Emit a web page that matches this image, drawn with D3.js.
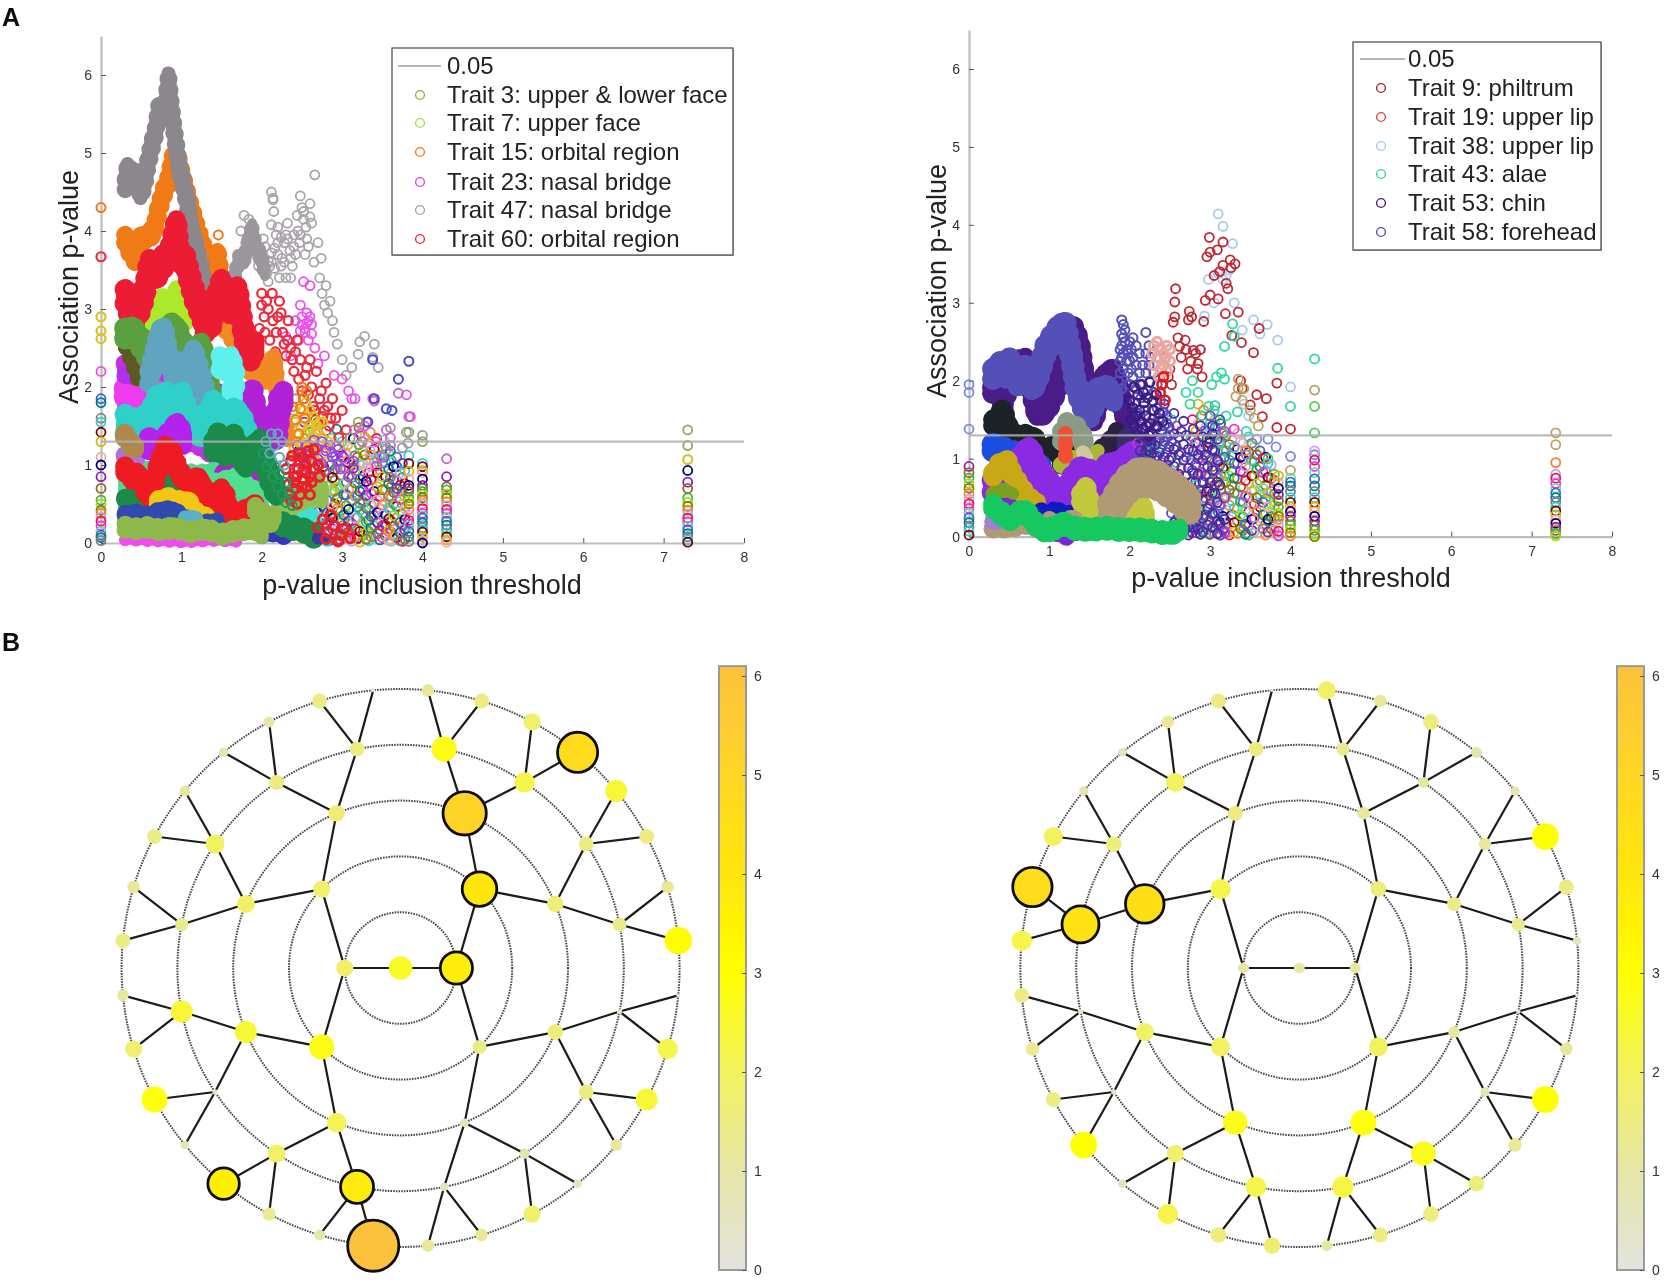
<!DOCTYPE html>
<html>
<head>
<meta charset="utf-8">
<script src="https://cdn.jsdelivr.net/npm/d3@7"></script>
<style>
  html, body { margin: 0; background: #fff; }
  text { font-family: "Liberation Sans", Arial, sans-serif; fill: #222; }
</style>
</head>
<body>
<div id="main"></div>
<script>
// ---- left scatter: dense traces (threshold, association)
const aBaseMidX = [0.3,0.6,0.9,1.2,1.5,1.8,1.95];
const aBaseMidY = [2.3,2.2,2.2,2.1,1.9,1.9,1.7];
const aBaseLowX = [0.3,0.6,0.9,1.2,1.5,1.8,2.0];
const aBaseLowY = [0.9,0.95,0.95,0.9,0.95,0.9,0.8];
const a15X = [0.3,0.36,0.42,0.48,0.54,0.6,0.66,0.72,0.78,0.84,0.9,0.96,1.02,1.1,1.2,1.3,1.4,1.45,1.5];
const a15Y = [3.95,3.8,3.7,3.95,3.95,4.0,4.05,4.35,4.55,4.7,5.0,4.95,4.7,4.4,4.05,3.75,3.4,3.75,3.4];
const a15bX = [1.55,1.65,1.75,1.85,1.95,2.05,2.15,2.25,2.32];
const a15bY = [2.9,2.75,2.5,2.35,2.3,2.25,2.4,1.6,1.5];
const a47X = [0.3,0.33,0.4,0.46,0.49,0.54,0.58,0.63,0.68,0.72,0.76,0.8,0.84,0.87,0.9,0.95,0.98,1.03,1.08,1.12,1.18,1.24,1.29];
const a47Y = [4.66,4.86,4.76,4.78,4.55,4.68,4.92,5.15,5.35,5.62,5.62,5.62,6.02,5.68,5.42,5.05,4.85,4.65,4.4,4.1,3.85,3.6,3.3];
const a47bX = [1.63,1.68,1.72,1.78,1.84,1.88,1.93,1.98,2.04];
const a47bY = [3.4,3.55,3.7,3.7,3.95,4.1,3.85,3.75,3.55];
const a7X = [0.55,0.62,0.68,0.75,0.85,0.95,1.05];
const a7Y = [2.8,3.0,3.1,3.15,3.1,3.25,3.0];
const a60X = [0.3,0.36,0.42,0.5,0.55,0.6,0.68,0.72,0.78,0.86,0.94,0.98,1.05,1.15,1.25,1.3,1.38,1.45,1.5,1.6,1.7,1.75,1.8,1.85,1.92];
const a60Y = [3.25,3.05,3.0,3.15,3.35,3.65,3.55,3.6,3.7,3.8,4.15,3.75,3.7,3.3,3.05,2.85,2.95,3.25,3.4,3.1,3.3,2.95,2.65,2.5,2.6];
const aOliveX = [0.3,0.38,0.45];
const aOliveY = [2.5,2.3,2.1];
const aLimeX = [0.3,0.36,0.42];
const aLimeY = [2.62,2.5,2.45];
const aVioletX = [0.3,0.38,0.45];
const aVioletY = [2.15,2.12,2.2];
const aPinkX = [0.3,0.38,0.48,0.62,0.7,1.45,1.55];
const aPinkY = [1.98,1.95,2.0,2.02,1.92,1.82,1.8];
const aGreenX = [0.3,0.38,0.45,0.52,0.58,0.65];
const aGreenY = [2.75,2.78,2.7,2.6,2.5,2.55];
const aGreen2X = [0.88,0.95,1.0,1.08,1.18,1.25,1.3,1.35,1.42,1.5];
const aGreen2Y = [2.82,2.78,2.62,2.5,2.5,2.58,2.35,2.05,1.8,1.5];
const aSteelX = [0.6,0.66,0.72,0.78,0.85,0.95,1.0,1.08,1.15,1.2,1.28,1.35];
const aSteelY = [2.2,2.45,2.72,2.78,2.4,2.15,2.35,2.15,2.5,2.35,2.05,1.8];
const aBrownX = [0.62,0.68,0.8,0.85];
const aBrownY = [1.75,1.72,1.92,1.95];
const aAquaX = [1.48,1.55,1.62,1.68,1.65,1.6];
const aAquaY = [2.4,2.35,2.42,2.2,2.05,2.0];
const aTurqX = [0.3,0.4,0.5,0.6,0.7,0.8,0.85,0.95,1.0,1.1,1.2,1.3,1.4,1.55,1.65,1.75,1.82];
const aTurqY = [1.65,1.6,1.62,1.68,1.9,1.95,1.7,1.78,1.95,1.68,1.62,1.62,1.85,1.6,1.75,1.65,1.45];
const aTanX = [0.3,0.38,0.43];
const aTanY = [1.4,1.28,1.25];
const aPurpleX = [0.6,0.7,0.85,0.95,1.02];
const aPurpleY = [1.35,1.3,1.42,1.55,1.4];
const aLilacX = [0.3,0.38,0.45];
const aLilacY = [1.12,1.15,1.08];
const aPurple2X = [1.88,1.92,1.96,2.02,2.18,2.22,2.27];
const aPurple2Y = [1.95,1.75,1.6,1.5,1.5,1.85,1.95];
const aDkGreenX = [1.4,1.45,1.55,1.65,1.75,1.8,1.9,1.98,2.03,2.1,2.18];
const aDkGreenY = [1.3,1.42,1.22,1.4,1.2,1.08,1.25,1.35,1.15,0.9,0.72];
const aMintX = [0.65,0.75,0.85,1.7,1.82,1.9];
const aMintY = [0.7,0.72,0.62,0.85,0.72,0.68];
const aMint2X = [1.25,1.32,1.4];
const aMint2Y = [0.55,0.85,0.55];
const aPlumX = [1.55,1.65,1.8,1.85];
const aPlumY = [0.88,0.98,0.98,0.78];
const aDkGreen2X = [0.3,0.38,0.45,0.52,0.6,0.65,0.72,0.78,0.85,0.92];
const aDkGreen2Y = [0.58,0.6,0.7,0.52,0.58,0.7,0.9,0.95,0.75,0.62];
const aRedX = [0.3,0.38,0.45,0.52,0.58,0.65,0.72,0.8,0.88,0.95,1.0,1.1,1.18,1.25,1.35,1.42,1.5,1.56,1.62,1.72,1.8,1.92];
const aRedY = [0.98,0.88,0.92,0.8,0.66,0.75,1.05,1.25,1.2,1.0,0.9,0.8,0.86,0.8,0.5,0.45,0.72,0.6,0.32,0.3,0.45,0.5];
const aYellowX = [0.72,0.82,0.9,1.08,1.18,1.28,1.38];
const aYellowY = [0.55,0.6,0.55,0.55,0.4,0.35,0.28];
const aBlueX = [0.3,0.45,0.6,0.75,0.9,1.0,1.2,1.45];
const aBlueY = [0.38,0.4,0.36,0.44,0.44,0.36,0.24,0.3];
const aSkyX = [1.05,1.12,1.2];
const aSkyY = [0.32,0.35,0.3];
const aGrassX = [0.3,0.45,0.6,0.75,0.9,1.1,1.3,1.5,1.7,1.9,2.0];
const aGrassY = [0.24,0.22,0.24,0.2,0.24,0.18,0.22,0.15,0.2,0.22,0.15];
const aGrass2X = [1.92,2.02,2.1,2.16];
const aGrass2Y = [0.48,0.42,0.3,0.38];
const aWedgeX = [2.22,2.32,2.45,2.55,2.65,2.74];
const aWedgeY = [0.45,0.55,0.6,0.68,0.8,0.72];
const aMagLowX = [0.3,0.55,0.8,1.05,1.4,1.7];
const aMagLowY = [0.04,0.03,0.02,0.01,0.03,0.02];
const aNavyX = [2.0,2.15,2.3];
const aNavyY = [0.1,0.12,0.08];
const aTealX = [2.26,2.35,2.45,2.58,2.66];
const aTealY = [0.28,0.24,0.22,0.18,0.12];
const aCyanX = [2.52,2.6,2.68];
const aCyanY = [0.32,0.38,0.3];
const aIndigoX = [2.7,2.78];
const aIndigoY = [0.06,0.05];

// ---- left scatter: open circles
const a47OpenX = [1.7,1.74,1.78,1.8,1.84,1.88,1.92,1.96,1.99,2.02,2.06,2.08,2.1,2.12,2.14,2.15,2.18,2.2,2.22,2.25,2.28,2.3,2.32,2.35,2.38,2.4,2.42,2.45,2.47,2.48,2.5,2.52,2.54,2.55,2.58,2.6,2.62,2.65,2.66,2.7,2.72,2.74,2.75,2.78,2.8,2.82,2.85,2.88,2.9,2.94,3.0,3.05,3.12,3.2,3.22,3.28,3.38,3.4,3.45,2.0,2.04,2.08,2.12,2.16,2.2,2.24,2.28,2.32,2.36,2.4,2.44,2.48,2.52,2.56,2.6,2.12,2.16,2.2,2.24,2.3,2.36,2.12,2.14];
const a47OpenY = [3.7,4.0,4.2,3.85,4.15,4.05,3.7,3.55,3.75,3.9,3.45,3.35,3.55,4.5,4.4,4.25,3.95,3.7,3.4,3.65,3.85,3.4,4.1,3.75,3.55,3.95,3.7,4.0,3.85,4.45,4.3,4.15,3.7,4.05,3.8,4.35,4.1,3.6,4.72,3.85,3.4,3.65,3.2,3.05,3.3,2.95,3.1,2.85,2.7,2.55,2.35,2.15,2.25,2.42,2.58,2.65,2.38,2.55,2.25,3.62,3.8,3.62,3.72,3.52,3.85,3.55,3.6,3.9,3.65,3.8,4.2,3.95,4.25,3.9,4.18,4.08,3.78,4.05,3.92,3.95,3.4,3.6,4.42];
const a60OpenX = [0,1.97,2.0,2.03,2.06,2.1,2.13,2.17,2.2,2.22,2.26,2.3,2.33,2.36,2.4,2.44,2.48,2.5,2.54,2.58,2.6,2.64,2.68,2.7,2.74,2.78,2.8,2.84,2.88,2.92,2.96,3.0,3.05,2.0,2.04,2.08,2.14,2.18,2.24,2.28,2.32,2.38,2.42,2.46,2.52,2.56,2.62,2.66,2.72,2.76,2.82,2.86];
const a60OpenY = [3.67,2.75,3.2,2.9,3.1,2.6,3.2,2.45,2.9,3.1,2.7,2.4,2.85,2.5,2.2,2.6,2.35,1.95,2.15,1.9,2.35,1.75,2.2,1.55,1.95,1.7,2.05,1.5,1.85,1.6,1.35,1.7,1.45,3.05,2.7,3.0,2.85,2.7,2.95,2.55,2.6,2.35,2.45,2.1,1.85,2.25,2.0,1.7,1.85,1.62,1.75,1.6];
const a60DenseX = [2.3,2.36,2.4,2.45,2.5,2.55,2.6,2.65,2.33,2.42,2.48,2.56,2.62,2.7,2.36,2.44,2.52,2.6,2.38,2.46,2.54,2.58,2.66,2.72,2.4,2.5,2.34,2.44,2.52,2.62,2.7,2.76,2.82,2.9,2.98,2.8,2.86,2.95,3.02,3.1];
const a60DenseY = [0.95,1.05,0.85,0.95,1.1,0.9,0.85,1.2,0.75,0.7,0.62,0.72,1.05,1.0,0.55,0.5,0.82,0.62,1.12,1.15,1.02,1.18,0.95,0.85,0.78,0.72,0.62,0.86,0.94,0.78,0.2,0.3,0.14,0.22,0.1,0.05,0.36,0.02,0.18,0.06];
const a23OpenX = [0,2.42,2.46,2.48,2.5,2.52,2.54,2.56,2.58,2.6,2.62,2.66,2.7,2.78,2.9,3.0,3.08,3.12,3.16,3.22,3.28,3.38,3.42,3.5,3.6,3.8,3.85,2.3,2.36,2.2,2.5,2.54,2.58,2.62,2.48,2.56,2.6];
const a23OpenY = [2.2,2.85,2.6,3.05,2.8,3.35,2.75,2.95,2.6,3.3,2.8,2.5,2.3,2.4,2.15,2.1,1.95,1.85,1.85,1.4,1.5,1.85,1.3,1.1,1.35,1.9,1.62,2.65,2.4,2.25,2.9,2.7,2.85,2.68,2.72,2.82,2.9];
const a15OpenX = [0,1.46,1.48,1.5,1.52,2.38,2.42,2.46,2.5,2.54,2.48,2.52,2.42,2.56];
const a15OpenY = [4.3,3.95,3.75,3.55,3.35,1.75,1.85,1.4,2.0,1.6,1.72,1.85,1.58,1.95];
const a3OpenX = [0,0,0,2.36,2.4,2.42,2.46,2.5,2.52,2.55,2.58,2.6,2.62,2.65,2.68,2.7,2.72,2.75,2.78,2.4,2.45,2.55,2.62,2.72,7.3,2.44,2.48,2.54,2.58,2.64,2.7,2.76,2.82,2.48,2.52,2.6,2.66];
const a3OpenY = [2.9,2.72,2.62,1.05,1.2,1.55,1.4,1.25,1.6,1.05,1.45,1.7,1.3,1.1,1.5,1.25,1.0,1.35,1.15,1.7,1.3,1.8,1.2,1.55,1.07,1.12,1.5,1.4,1.22,1.62,1.42,1.55,1.3,1.3,1.7,1.5,1.35];
const aBlueOpenX = [3.38,3.7,3.83,3.4,3.55,3.62,3.32,3.68];
const aBlueOpenY = [2.35,2.1,2.33,1.85,1.72,1.7,1.55,0.7];
const a7OpenX = [3.83,4.0,7.3,7.3,3.1,3.2];
const a7OpenY = [1.42,1.3,1.45,1.25,1.35,1.55];
const aMagentaOpenX = [3.7,3.83,3.4,3.3,3.15,3.25,3.55,3.6,4.3];
const aMagentaOpenY = [1.92,1.62,1.82,1.55,1.45,1.3,1.45,1.25,1.08];
const a47LowX = [3.6,3.8,4.0,3.55,3.75,3.82];
const a47LowY = [1.48,1.42,1.38,1.2,1.22,1.28];
const aGreenOpenX = [2.02,2.06,2.1,2.14,2.16,2.2,2.22,2.26,2.3,2.3,2.34,2.38];
const aGreenOpenY = [1.15,0.98,1.05,0.85,0.98,0.72,0.88,0.62,0.78,0.52,0.65,0.48];
const aSteelOpenX = [2.05,2.1,2.12,2.16,2.2,2.22,2.25,2.28];
const aSteelOpenY = [1.3,1.15,1.4,1.25,1.4,1.1,1.3,1.0];
const aPurpleOpenX = [2.5,2.56,2.62,2.68,2.74,2.8,2.86,2.92,2.98,2.55,2.65,2.75,2.85,2.95,3.02,3.08,3.14,2.44,2.48,2.58,2.7,2.78,2.88];
const aPurpleOpenY = [1.15,1.25,1.05,1.22,1.02,1.18,1.0,1.12,0.95,0.98,1.32,1.3,1.25,1.2,1.1,0.85,1.05,1.25,1.02,1.12,1.08,0.92,1.1];

// multi coloured clouds: one x per column, y list per column
const cloudAX = [2.7,2.77,2.84,2.91,2.98,3.05,3.12,3.19,3.26,3.33,3.4,3.47,3.54,3.61,3.68,3.75];
const cloudAY = [
  [0.88,0.7,0.52,0.4,0.27,0.16,0.05],
  [0.98,0.82,0.63,0.46,0.36,0.21,0.08],
  [1.02,0.9,0.74,0.56,0.42,0.28,0.11,0.03],
  [0.94,0.8,0.66,0.5,0.33,0.24,0.1],
  [1.05,0.87,0.7,0.53,0.41,0.3,0.16,0.04],
  [1.14,0.95,0.78,0.62,0.48,0.36,0.2,0.08],
  [1.22,1.0,0.84,0.7,0.55,0.4,0.25,0.13,0.02],
  [1.1,0.93,0.76,0.6,0.46,0.33,0.18,0.06],
  [1.18,1.02,0.86,0.68,0.53,0.38,0.24,0.1],
  [1.28,1.06,0.9,0.74,0.58,0.43,0.29,0.15,0.03],
  [1.2,1.04,0.83,0.66,0.5,0.35,0.22,0.08],
  [1.12,0.94,0.78,0.6,0.44,0.3,0.17,0.04],
  [1.24,1.03,0.85,0.68,0.52,0.36,0.23,0.09],
  [1.06,0.9,0.72,0.58,0.42,0.28,0.14,0.02],
  [1.1,0.98,0.8,0.64,0.47,0.32,0.2,0.07],
  [1.02,0.84,0.68,0.5,0.37,0.24,0.11,0.02]
];
const cloudA2X = [2.74,2.81,2.88,2.94,3.02,3.08,3.16,3.22,3.3,3.36,3.44,3.5,3.58,3.64,3.72,3.78];
const cloudA2Y = [
  [0.6,0.44,0.31,0.12],
  [0.73,0.55,0.39,0.25,0.02],
  [0.84,0.68,0.47,0.32,0.18,0.06],
  [1.0,0.72,0.57,0.44,0.17,0.04],
  [0.97,0.76,0.62,0.36,0.23,0.1],
  [1.03,0.86,0.69,0.43,0.28,0.14],
  [1.12,0.92,0.77,0.6,0.32,0.18,0.07],
  [1.0,0.82,0.66,0.51,0.42,0.15,0.01],
  [0.96,0.79,0.61,0.45,0.27,0.13,0.05],
  [1.13,0.98,0.81,0.64,0.49,0.34,0.19,0.08],
  [1.08,0.9,0.72,0.55,0.39,0.26,0.12],
  [1.02,0.85,0.68,0.49,0.36,0.22,0.07],
  [1.14,0.95,0.76,0.6,0.45,0.31,0.16,0.03],
  [0.98,0.81,0.65,0.5,0.35,0.21,0.09],
  [0.9,0.74,0.56,0.41,0.26,0.13,0.03],
  [0.93,0.76,0.6,0.44,0.3,0.17,0.05]
];
const cloudA3X = [2.46,2.53,2.6,2.67,2.8,2.87,2.93,3.0,3.07,3.14,3.21,3.28,3.35,3.43,3.52,3.6];
const cloudA3Y = [
  [1.38,1.18],[1.55,1.34],[1.42,1.12],[1.58,1.4,1.05],[1.44,1.22],[1.34,1.16],[1.46,1.24],[1.3,1.12],
  [1.26,1.06],[1.34,0.96],[1.48,1.26],[1.36,1.13],[1.42,1.18],[1.34,0.99],[1.32,1.1],[1.18,0.84]
];
const edgeAX = [0,3.83,4.0,4.3,7.3];
const edgeAY = [
  [1.85,1.8,1.6,1.55,1.42,1.3,1.1,1.0,0.85,0.7,0.55,0.5,0.42,0.38,0.33,0.28,0.22,0.15,0.1,0.07,0.03],
  [1.12,1.02,0.92,0.82,0.74,0.7,0.66,0.58,0.54,0.5,0.43,0.36,0.29,0.25,0.22,0.15,0.08,0.02],
  [1.02,0.98,0.93,0.9,0.82,0.74,0.7,0.66,0.62,0.58,0.54,0.5,0.44,0.38,0.35,0.32,0.26,0.2,0.17,0.14,0.08,0.03,0],
  [0.85,0.72,0.68,0.63,0.58,0.53,0.48,0.43,0.38,0.33,0.28,0.23,0.18,0.13,0.08,0.04,0.01],
  [0.93,0.78,0.7,0.58,0.52,0.47,0.42,0.37,0.32,0.27,0.22,0.17,0.12,0.08,0.04,0.01]
];

// ---- right scatter: dense traces
const bPurpleX = [0.3,0.36,0.42,0.55,0.7,0.85,0.95,1.05,1.13,1.2,1.3,1.37,1.42,1.5,1.55,1.62,1.7,1.8,1.9,2.0];
const bPurpleY = [1.92,1.95,1.75,2.22,2.3,1.62,1.65,1.85,2.05,2.4,2.7,2.5,2.15,1.75,1.55,1.85,2.1,2.15,1.75,1.45];
const bSlateX = [0.3,0.38,0.45,0.5,0.55,0.6,0.7,0.78,0.85,0.95,1.05,1.15,1.2,1.28,1.32,1.4,1.5,1.6,1.7,1.8];
const bSlateY = [2.15,2.25,2.15,2.3,2.15,2.05,2.2,2.0,2.1,2.45,2.62,2.75,2.75,2.35,2.05,1.8,1.65,1.9,1.95,1.85];
const bBlackX = [0.3,0.36,0.42,0.5,0.6,0.7,0.8,0.9,1.0,1.1,1.15,1.3];
const bBlackY = [1.5,1.55,1.65,1.4,1.3,1.32,1.3,1.15,1.15,1.2,1.0,1.05];
const bBlack2X = [1.55,1.65,1.75,1.85];
const bBlack2Y = [1.05,1.15,1.25,1.38];
const bSageX = [1.15,1.22,1.35,1.45];
const bSageY = [1.35,1.48,1.42,1.25];
const bKhakiX = [1.42,1.48];
const bKhakiY = [1.08,1.02];
const bOrangeRedX = [1.2,1.2];
const bOrangeRedY = [1.32,1.02];
const bOliveX = [1.15,1.3,1.5,1.6];
const bOliveY = [0.92,1.02,0.98,1.1];
const bBlueX = [0.3,0.4,0.5,0.6,0.72,0.9];
const bBlueY = [1.18,1.15,1.1,1.08,0.98,0.92];
const bVioletBaseX = [0.3,0.6,0.9,1.2,1.5,1.8];
const bVioletBaseY = [0.75,0.8,0.7,0.55,0.7,0.75];
const bVioletX = [0.3,0.6,0.75,0.85,0.95,1.1,1.2,1.3,1.4,1.5,1.6,1.75,1.9,1.97,2.03];
const bVioletY = [0.72,0.98,1.15,0.92,0.75,0.62,0.62,0.78,0.9,0.85,0.8,0.95,0.95,1.05,1.1];
const bGoldX = [0.3,0.38,0.47,0.55,0.65,0.72,0.85];
const bGoldY = [0.82,0.95,1.0,0.8,0.65,0.52,0.45];
const bNavyX = [0.9,1.0,1.05,1.2,1.32];
const bNavyY = [0.33,0.28,0.36,0.3,0.3];
const bGrassX = [0.3,0.45,0.55];
const bGrassY = [0.55,0.6,0.55];
const bLilacX = [0.3,0.36];
const bLilacY = [0.2,0.18];
const bYellowX = [1.4,1.45,1.5,1.6];
const bYellowY = [0.55,0.65,0.45,0.25];
const bYellow2X = [1.85,2.0,2.1,2.2];
const bYellow2Y = [0.35,0.45,0.5,0.3];
const bTanX = [1.75,1.9,2.0,2.15,2.35,2.5,2.65,2.75];
const bTanY = [0.42,0.68,0.8,0.88,0.82,0.72,0.6,0.5];
const bTan2X = [0.3,0.5,0.7,0.85];
const bTan2Y = [0.1,0.1,0.15,0.1];
const bTan3X = [1.0,1.15,1.3,1.45,1.6];
const bTan3Y = [0.22,0.18,0.25,0.3,0.32];
const bGreenX = [0.3,0.4,0.5,0.6,0.7,0.8,0.9,1.0,1.15,1.3,1.5,1.7,1.9,2.1,2.3,2.5,2.62];
const bGreenY = [0.42,0.33,0.25,0.33,0.36,0.22,0.13,0.1,0.2,0.14,0.12,0.14,0.12,0.12,0.1,0.07,0.12];
const bDarkX = [1.98,2.05,2.12,2.2];
const bDarkY = [1.25,1.18,1.22,1.15];

// ---- right scatter: open circles
const b9OpenX = [2.57,2.56,2.56,2.54,2.74,2.77,2.73,2.92,2.6,2.69,2.62,2.79,2.85,2.9,2.99,3.16,3.09,3.0,2.96,3.25,3.31,3.16,3.22,3.0,2.94,3.19,3.35,3.61,3.39,3.54,3.27,3.83,4.0,3.83,3.7,3.58,3.5,3.65,3.4,3.38,2.45,2.5,2.52,2.7,2.76,2.82,2.48,2.64,2.72,2.84,2.88,3.05,3.1,3.12,3.2,3.26];
const b9OpenY = [3.18,3.01,2.82,2.75,2.89,2.82,2.78,2.76,2.55,2.52,2.44,2.39,2.22,2.05,3.84,3.78,3.68,3.65,3.59,3.55,3.5,3.48,3.18,3.1,3.03,2.86,2.88,2.67,2.49,2.36,2.58,1.97,1.38,1.4,1.77,1.82,1.69,1.54,1.9,2.0,2.3,2.15,1.95,2.4,2.25,2.35,2.05,2.3,2.15,2.15,2.4,3.35,3.05,3.4,3.25,3.45];
const b38OpenX = [3.1,3.16,3.28,3.2,3.3,3.54,3.71,3.84,3.62,3.4,4.0,2.93,2.87,3.1,3.16,3.24,2.98,3.05,3.42,3.48];
const b38OpenY = [4.14,3.98,3.76,3.35,3.0,2.78,2.72,2.52,2.6,2.65,1.92,2.83,2.4,3.38,3.3,3.42,3.3,3.0,1.7,1.55];
const b43OpenX = [3.28,3.18,3.3,3.84,3.02,3.08,3.14,3.18,2.98,2.78,2.85,4.0,2.7,2.75,2.9,3.0,3.05,3.2,3.15,3.34,3.45,4.3];
const b43OpenY = [2.73,2.44,2.57,2.16,1.95,2.05,2.1,2.02,1.67,2.0,1.85,1.67,1.85,1.7,1.55,1.45,1.62,1.55,1.35,1.6,1.35,2.28];
const bTanOpenX = [3.35,3.35,3.32,3.4,3.42,3.5,3.55,3.6,4.3,7.3,7.3,4.0];
const bTanOpenY = [2.02,1.9,1.8,1.75,1.9,1.62,1.52,1.42,1.88,1.33,1.18,0.85];
const bLightOpenX = [0,0,0,4.0,4.3,3.58,3.72,3.82,3.3,3.45];
const bLightOpenY = [1.95,1.85,1.38,1.03,1.05,1.25,1.25,1.15,1.15,1.05];
const bGreenSpotX = [4.3,4.3,3.72,3.8];
const bGreenSpotY = [1.67,1.33,1.0,0.8];
const b58OpenX = [1.88,1.88,1.88,1.9,1.9,1.9,1.9,1.92,1.92,1.92,1.92,1.94,1.94,1.96,1.96,1.96,1.98,1.98,2.0,2.0,2.0,2.02,2.02,2.04,2.04,2.04,2.08,2.08,2.08,2.12,2.12,2.16,2.16,2.2,2.2,2.2,2.24,2.24,2.26,2.3,2.3,2.34,2.34,2.38,2.42,2.46,2.5,2.06,2.1,2.14,2.18,2.22,2.28,2.32,2.36,2.4,2.44,1.86,1.84,1.9];
const b58OpenY = [2.4,2.25,2.1,2.78,2.6,2.45,2.3,2.72,2.55,2.35,2.15,2.65,2.5,2.4,2.25,1.95,2.35,2.1,2.5,2.25,1.95,2.4,2.15,2.55,2.3,2.05,2.45,2.2,1.9,2.35,2.1,2.2,1.95,2.62,2.35,2.1,2.45,2.2,2.3,2.1,1.85,1.95,1.65,1.75,1.6,1.45,1.3,1.72,1.58,1.78,1.62,1.88,1.62,1.42,1.52,1.32,1.22,2.0,1.85,1.9];
const b53OpenX = [2.0,2.04,2.08,2.1,2.14,2.18,2.02,2.06,2.12,2.16,2.2,2.22,2.26,2.3,2.24,2.28,2.34,2.05,2.09,2.13,2.17,2.21,2.25,2.29,2.33,2.37,2.41];
const b53OpenY = [1.75,1.65,1.55,1.82,1.48,1.72,1.5,1.42,1.62,1.38,1.55,1.78,1.45,1.62,1.3,1.32,1.42,1.92,1.36,1.95,1.85,1.42,1.98,1.74,1.82,1.58,1.48];
const bPinkX = [2.3,2.34,2.38,2.42,2.46,2.5,2.3,2.34,2.38,2.42,2.46,2.5,2.28,2.36,2.44];
const bPinkY = [2.45,2.5,2.42,2.35,2.45,2.4,2.2,2.3,2.15,2.2,2.12,2.25,2.35,2.05,2.28];
const bRedFillX = [2.38,2.4,2.42,2.44];
const bRedFillY = [1.85,1.95,2.05,1.75];
const cloudBPurpleX = [2.1,2.16,2.22,2.28,2.34,2.4,2.46,2.52,2.58,2.64,2.7,2.76,2.82,2.88,2.94,3.0,3.06,3.12,3.18];
const cloudBPurpleY = [
  [1.42,1.2,1.02],[1.38,1.14,0.98],[1.45,1.25,1.08],[1.5,1.32,1.1,0.95],[1.4,1.2,1.03,0.88],[1.6,1.35,1.15,0.95,0.82],
  [1.55,1.28,1.08,0.9,0.75],[1.5,1.22,1.02,0.82,0.5,0.3],[1.42,1.15,0.95,0.72,0.42,0.22],[1.35,1.08,0.88,0.62,0.36,0.15],
  [1.3,1.02,0.78,0.52,0.3,0.1],[1.25,0.98,0.7,0.45,0.25,0.07],[1.2,0.92,0.66,0.4,0.18,0.05],[1.42,1.12,0.82,0.58,0.33,0.12,0.03],
  [1.36,1.05,0.78,0.5,0.28,0.08],[1.55,1.25,0.98,0.7,0.42,0.2,0.03],[1.68,1.4,1.1,0.85,0.55,0.3,0.1],[1.5,1.2,0.92,0.66,0.4,0.16,0.02],[1.35,1.02,0.78,0.5,0.22,0.06]
];
const cloudBP2X = [2.13,2.19,2.25,2.31,2.37,2.43,2.49,2.55,2.61,2.67,2.73,2.79,2.85,2.91,2.97,3.03,3.09];
const cloudBP2Y = [
  [1.55,1.3,1.1],[1.62,1.28,1.06],[1.35,1.15,0.96],[1.42,1.18,1.02],[1.48,1.26,1.08,0.92],[1.7,1.42,1.22,1.02,0.86],
  [1.4,1.15,0.98,0.8],[1.58,1.32,1.12,0.9,0.38,0.18],[1.28,1.05,0.8,0.5,0.26,0.05],[1.48,1.18,0.98,0.7,0.45,0.2],
  [1.12,0.88,0.62,0.38,0.14,0.02],[1.38,1.1,0.82,0.58,0.33,0.12],[1.05,0.8,0.52,0.28,0.1],[1.28,0.98,0.7,0.46,0.24,0.06],
  [1.15,0.9,0.62,0.36,0.15],[1.42,1.12,0.85,0.56,0.3,0.12],[1.25,0.98,0.7,0.44,0.2,0.04]
];
const cloudBX = [2.78,2.85,2.92,2.99,3.06,3.13,3.2,3.27,3.34,3.41,3.48,3.55,3.62,3.69,3.76];
const cloudBY = [
  [1.5,1.28,1.05,0.85,0.62,0.42,0.22,0.05],
  [1.7,1.45,1.2,1.0,0.78,0.55,0.34,0.14],
  [1.62,1.35,1.12,0.9,0.7,0.48,0.27,0.08],
  [1.4,1.2,0.98,0.76,0.58,0.38,0.2,0.03],
  [1.5,1.3,1.08,0.86,0.66,0.46,0.26,0.1],
  [1.45,1.22,1.0,0.8,0.6,0.4,0.18,0.02],
  [1.3,1.1,0.9,0.7,0.52,0.34,0.16,0.05],
  [1.25,1.05,0.84,0.66,0.46,0.28,0.12],
  [1.32,1.12,0.94,0.74,0.55,0.36,0.2,0.04],
  [1.2,1.0,0.82,0.62,0.44,0.25,0.08],
  [1.28,1.08,0.88,0.68,0.5,0.32,0.14,0.02],
  [1.15,0.96,0.78,0.6,0.42,0.24,0.06],
  [1.1,0.9,0.72,0.54,0.38,0.2,0.05],
  [1.02,0.84,0.66,0.48,0.3,0.16,0.02],
  [0.92,0.75,0.58,0.42,0.26,0.1]
];
const cloudB2X = [2.82,2.89,2.96,3.03,3.1,3.16,3.24,3.3,3.38,3.44,3.52,3.58,3.66,3.72,3.8];
const cloudB2Y = [
  [1.35,1.15,0.92,0.7,0.5,0.3,0.1],
  [1.55,1.3,1.08,0.82,0.6,0.38,0.18],
  [1.25,1.02,0.8,0.58,0.36,0.14],
  [1.32,1.1,0.9,0.72,0.5,0.28,0.06],
  [1.18,0.96,0.75,0.52,0.32,0.15],
  [1.32,1.1,0.88,0.7,0.48,0.26,0.08],
  [1.18,0.98,0.78,0.6,0.4,0.22,0.02],
  [1.38,1.14,0.94,0.75,0.56,0.36,0.18,0.06],
  [1.22,1.02,0.84,0.64,0.45,0.28,0.1],
  [1.1,0.9,0.72,0.52,0.34,0.16,0.03],
  [1.2,0.98,0.78,0.58,0.4,0.22,0.08],
  [1.05,0.86,0.68,0.5,0.32,0.14],
  [1.0,0.82,0.62,0.44,0.28,0.1],
  [0.94,0.76,0.56,0.38,0.22,0.06],
  [0.72,0.55,0.4,0.24,0.08]
];
const edgeBX = [0,3.85,4.0,4.3,7.3];
const edgeBY = [
  [0.9,0.82,0.75,0.68,0.62,0.55,0.48,0.42,0.36,0.3,0.24,0.18,0.12,0.07,0.02],
  [0.78,0.7,0.62,0.54,0.46,0.38,0.3,0.26,0.22,0.14,0.07,0.01],
  [0.75,0.7,0.65,0.58,0.5,0.44,0.38,0.35,0.32,0.26,0.2,0.15,0.1,0.05,0.01],
  [1.1,0.98,0.9,0.82,0.74,0.65,0.58,0.5,0.44,0.38,0.32,0.26,0.2,0.14,0.08,0.03,0],
  [0.95,0.8,0.75,0.68,0.62,0.56,0.5,0.44,0.38,0.33,0.28,0.22,0.17,0.12,0.08,0.04,0.01]
];

const legendA = ["Trait 3: upper & lower face","Trait 7: upper face","Trait 15: orbital region","Trait 23: nasal bridge","Trait 47: nasal bridge","Trait 60: orbital region"];
const legendAColours = ["#a8a63a","#a8e23c","#f07a1e","#e83ce8","#a5a1a6","#ea2a3c"];
const legendB = ["Trait 9: philtrum","Trait 19: upper lip","Trait 38: upper lip","Trait 43: alae","Trait 53: chin","Trait 58: forehead"];
const legendBColours = ["#a8202c","#e8443c","#a8c8f0","#30d8a0","#4b1a8c","#5450b8"];

// ---- network node values, one array per ring, clockwise from 12 o'clock
const leftRoot = [2.6];
const leftRing1 = [3.7,1.8];
const leftRing2 = [4.0,1.4,2.8,1.8];
const leftRing3 = [5.1,1.7,1.6,0.7,2.1,2.4,1.9,1.7];
const leftRing4 = [2.8,2.2,1.5,1.4,0.3,1.5,0.9,0.7,3.8,1.9,0.3,2.4,1.3,2.0,1.5,1.5];
const leftRing5 = [1.2,1.5,1.8,4.7,2.4,1.5,1.2,3.1,0.1,2.2,2.4,1.1,0.7,1.8,1.2,1.2,6.1,1.0,1.3,3.6,0.7,2.9,1.8,1.1,1.5,1.2,1.5,1.0,0.8,1.0,1.5,0.1];
const rightRoot = [1.0];
const rightRing1 = [1.0,1.0];
const rightRing2 = [1.6,2.0,2.0,2.2];
const rightRing3 = [1.2,1.4,1.1,2.9,2.7,1.9,4.5,1.5];
const rightRing4 = [1.3,1.0,1.2,1.3,0.2,0.8,2.7,2.3,2.2,1.8,0.3,0.3,4.3,1.6,2.0,1.5];
const rightRing5 = [1.9,1.2,1.6,1.0,0.8,3.0,1.5,0.7,0.1,1.2,3.0,1.3,1.6,1.6,1.5,1.0,1.7,1.6,2.2,0.7,3.0,1.5,1.3,1.5,2.2,4.6,2.0,0.8,0.7,1.2,1.5,0.05];

const cbTicks = [0,1,2,3,4,5,6];
const cbStops = [0,1,2,3,4,5,6.1];
const cbColours = ["#e3e3de","#e6e6a6","#f2f25e","#ffff00","#ffe60a","#ffd626","#fdc23c"];
const openColours = ["#e6194b","#3cb44b","#d9b800","#4363d8","#f58231","#911eb4","#2fd0d0","#f032e6","#a8d80c","#f4a6a6","#008080","#c8a0f0","#9a6324","#800000","#60e0a0","#808000","#000075","#808080"];

const width = 1666, height = 1282;
const svg = d3.select("#main").append("svg").attr("width", width).attr("height", height).style("display", "block");

const defs = svg.append("defs");
defs.append("filter").attr("id", "soft").append("feGaussianBlur").attr("stdDeviation", 0.7);

const grad = defs.append("linearGradient").attr("id", "cb").attr("x1", 0).attr("x2", 0).attr("y1", 1).attr("y2", 0);
cbStops.forEach((s, i) => {
  grad.append("stop").attr("offset", s / 6.1).attr("stop-color", cbColours[i]);
});

const root = svg.append("g").attr("filter", "url(#soft)");

// a trace is a ribbon: area [v, v + depth px], rounded stroke, beads along both edges
const drawBands = (g, x, y, bands) => {
  bands.forEach(b => {
    const pts = b[0].map((v, i) => [v, b[1][i]]);
    const depth = b[4] || 0;
    const area = d3.area().x(d => x(d[0])).y0(d => y(d[1])).y1(d => y(d[1]) + depth);
    const top = d3.line().x(d => x(d[0])).y(d => y(d[1]));
    const bottom = d3.line().x(d => x(d[0])).y(d => y(d[1]) + depth);
    g.append("path")
      .attr("d", area(pts))
      .attr("fill", b[2])
      .attr("stroke", b[2])
      .attr("stroke-width", b[3])
      .attr("stroke-linejoin", "round")
      .attr("stroke-linecap", "round");
    [top, bottom].forEach(l => {
      g.append("path")
        .attr("d", l(pts))
        .attr("fill", "none")
        .attr("stroke", b[2])
        .attr("stroke-width", b[3] + 3)
        .attr("stroke-linecap", "round")
        .attr("stroke-dasharray", "0.1 11");
    });
  });
};

const drawOpen = (g, x, y, xs, ys, colour, sw) => {
  g.append("g").selectAll("circle")
    .data(xs.map((v, i) => [v, ys[i]]))
    .enter()
    .append("circle")
    .attr("cx", d => x(d[0]))
    .attr("cy", d => y(d[1]))
    .attr("r", 4.5)
    .attr("fill", "none")
    .attr("stroke", colour)
    .attr("stroke-width", sw || 1.8);
};

const drawColumns = (g, x, y, colX, colY, colours, offset) => {
  let n = offset || 0;
  colX.forEach((cx, i) => {
    colY[i].forEach(v => {
      g.append("circle")
        .attr("cx", x(cx))
        .attr("cy", y(v))
        .attr("r", 4.5)
        .attr("fill", "none")
        .attr("stroke", colours[n % colours.length])
        .attr("stroke-width", 1.8);
      n += 7;
    });
  });
};

const drawAxes = (g, x, y) => {
  const xAxis = d3.axisBottom(x).tickValues(d3.range(0, 9)).tickSize(0).tickPadding(9).tickFormat(d3.format("d"));
  const yAxis = d3.axisLeft(y).tickValues(d3.range(0, 7)).tickSize(0).tickPadding(9).tickFormat(d3.format("d"));
  const gx = g.append("g").attr("transform", "translate(0," + y(0) + ")").call(xAxis);
  const gy = g.append("g").attr("transform", "translate(" + x(0) + ",0)").call(yAxis);
  [gx, gy].forEach(a => {
    a.select(".domain").attr("stroke", "#bdbdbd").attr("stroke-width", 2.2);
    a.selectAll("text").style("font-size", "14px").style("fill", "#333");
  });
  gx.selectAll(".tick").append("line").attr("y2", -5).attr("stroke", "#555");
  gy.selectAll(".tick").append("line").attr("x2", 5).attr("stroke", "#555");
};

const drawLegend = (g, box, labels, colours, rowsY, textX, markX, lineX) => {
  g.append("rect").attr("x", box[0] + 1).attr("y", box[1] + 1).attr("width", box[2] - box[0]).attr("height", box[3] - box[1]).attr("fill", "#bbb");
  g.append("rect").attr("x", box[0]).attr("y", box[1]).attr("width", box[2] - box[0]).attr("height", box[3] - box[1]).attr("fill", "#fff").attr("stroke", "#444").attr("stroke-width", 1.2);
  g.append("line").attr("x1", lineX[0]).attr("x2", lineX[1]).attr("y1", rowsY[0]).attr("y2", rowsY[0]).attr("stroke", "#b5b5b5").attr("stroke-width", 2);
  g.append("text").attr("x", textX).attr("y", rowsY[0] + 8).style("font-size", "24px").text("0.05");
  labels.forEach((t, i) => {
    g.append("circle").attr("cx", markX).attr("cy", rowsY[i + 1]).attr("r", 4.4).attr("fill", "none").attr("stroke", colours[i]).attr("stroke-width", 1.4);
    g.append("text").attr("x", textX).attr("y", rowsY[i + 1] + 8).style("font-size", "24px").text(t);
  });
};

// ---- panel A left
const xA = d3.scaleLinear().domain([0, 8]).range([101, 744]);
const yA = d3.scaleLinear().domain([0, 6.5]).range([543, 36]);
const gA = root.append("g");

drawAxes(gA, xA, yA);

drawColumns(gA, xA, yA, cloudAX, cloudAY, openColours);
drawColumns(gA, xA, yA, cloudA2X, cloudA2Y, openColours, 4);
drawColumns(gA, xA, yA, cloudA3X, cloudA3Y, openColours, 9);
drawOpen(gA, xA, yA, a47OpenX, a47OpenY, "#a9a5aa");
drawOpen(gA, xA, yA, a23OpenX, a23OpenY, "#ec50ec");
drawOpen(gA, xA, yA, a60OpenX, a60OpenY, "#ea2a3c", 2.2);
drawOpen(gA, xA, yA, a3OpenX, a3OpenY, "#e0c020", 2.2);
drawOpen(gA, xA, yA, aPurpleOpenX, aPurpleOpenY, "#a040e8");
drawOpen(gA, xA, yA, a47LowX, a47LowY, "#9a9a9a");
drawOpen(gA, xA, yA, aMagentaOpenX, aMagentaOpenY, "#c860d0");
drawOpen(gA, xA, yA, aBlueOpenX, aBlueOpenY, "#4a48d0", 2);
drawOpen(gA, xA, yA, a7OpenX, a7OpenY, "#8ca860");
drawColumns(gA, xA, yA, edgeAX, edgeAY, openColours, 3);

drawBands(gA, xA, yA, [
  [aMagLowX, aMagLowY, "#ef4cef", 9, 0],
  [aWedgeX, aWedgeY, "#8fc050", 15, 14],
  [aCyanX, aCyanY, "#40e0d0", 12, 4],
  [aNavyX, aNavyY, "#3038b8", 14, 0],
  [aTealX, aTealY, "#1e8a4c", 17, 6],
  [aIndigoX, aIndigoY, "#3a38a0", 9, 0]
]);
drawOpen(gA, xA, yA, a60DenseX, a60DenseY, "#e8202c", 3);
drawOpen(gA, xA, yA, a15OpenX, a15OpenY, "#f07a1e", 2);

drawBands(gA, xA, yA, [
  [a15X, a15Y, "#f07a14", 15, 8],
  [a47X, a47Y, "#8b878d", 14, 10],
  [a47bX, a47bY, "#9b979d", 10, 10],
  [a15bX, a15bY, "#f08a20", 14, 14],
  [a7X, a7Y, "#aee82c", 16, 14],
  [aBaseMidX, aBaseMidY, "#c030e0", 16, 66],
  [aBaseLowX, aBaseLowY, "#50d890", 14, 50],
  [aPurple2X, aPurple2Y, "#b020d8", 20, 14],
  [aPlumX, aPlumY, "#a828c8", 20, 0],
  [aPinkX, aPinkY, "#ef3aef", 20, 8],
  [aVioletX, aVioletY, "#b030f0", 14, 0],
  [aLilacX, aLilacY, "#b070e0", 16, 0],
  [aLimeX, aLimeY, "#b8e040", 9, 0],
  [aOliveX, aOliveY, "#5c5a20", 11, 0],
  [a60X, a60Y, "#ec1c34", 18, 14],
  [aGreenX, aGreenY, "#5aa040", 19, 10],
  [aGreen2X, aGreen2Y, "#5aa040", 18, 10],
  [aSteelX, aSteelY, "#60a4c0", 17, 12],
  [aBrownX, aBrownY, "#b08840", 9, 0],
  [aAquaX, aAquaY, "#5ef0ee", 16, 14],
  [aTurqX, aTurqY, "#2ed0c8", 18, 20],
  [aPurpleX, aPurpleY, "#b420ec", 18, 12],
  [aTanX, aTanY, "#b0884c", 17, 4],
  [aMintX, aMintY, "#50e090", 17, 4],
  [aMint2X, aMint2Y, "#50e090", 14, 0],
  [aDkGreenX, aDkGreenY, "#1a8a48", 18, 10],
  [aDkGreen2X, aDkGreen2Y, "#1a8a48", 15, 2],
  [aRedX, aRedY, "#ee1c24", 17, 6],
  [aYellowX, aYellowY, "#f5c518", 17, 4],
  [aBlueX, aBlueY, "#3048b0", 14, 2],
  [aSkyX, aSkyY, "#56b0d0", 12, 0],
  [aGrassX, aGrassY, "#8fb84c", 14, 6],
  [aGrass2X, aGrass2Y, "#8fb84c", 14, 6]
]);
drawOpen(gA, xA, yA, aGreenOpenX, aGreenOpenY, "#1e9a60", 2);
drawOpen(gA, xA, yA, aSteelOpenX, aSteelOpenY, "#60a8c4", 2);

gA.append("line").attr("x1", xA(0)).attr("x2", xA(8)).attr("y1", yA(1.3)).attr("y2", yA(1.3)).attr("stroke", "#b0b0b0").attr("stroke-width", 2.2).attr("opacity", 0.85);
drawLegend(gA, [392, 48, 733, 255], legendA, legendAColours, [66, 95, 123, 152, 182, 210, 239], 447, 420, [398, 441]);

gA.append("text").attr("transform", "translate(78,287) rotate(-90)").attr("text-anchor", "middle").style("font-size", "27px").text("Association p-value");
gA.append("text").attr("x", 422).attr("y", 594).attr("text-anchor", "middle").style("font-size", "27px").text("p-value inclusion threshold");

// ---- panel A right
const xB = d3.scaleLinear().domain([0, 8]).range([969, 1612]);
const yB = d3.scaleLinear().domain([0, 6.5]).range([536.6, 30]);
const gB = root.append("g");

drawAxes(gB, xB, yB);

drawColumns(gB, xB, yB, cloudBX, cloudBY, openColours);
drawColumns(gB, xB, yB, cloudB2X, cloudB2Y, openColours, 2);
drawOpen(gB, xB, yB, b38OpenX, b38OpenY, "#a8c8f0");
drawOpen(gB, xB, yB, b9OpenX, b9OpenY, "#c02830");
drawOpen(gB, xB, yB, b43OpenX, b43OpenY, "#30d8a0");
drawOpen(gB, xB, yB, bTanOpenX, bTanOpenY, "#c0a060");
drawOpen(gB, xB, yB, bLightOpenX, bLightOpenY, "#7a88e0");
drawOpen(gB, xB, yB, bGreenSpotX, bGreenSpotY, "#50d050");
drawColumns(gB, xB, yB, edgeBX, edgeBY, openColours, 5);

drawBands(gB, xB, yB, [
  [bPurpleX, bPurpleY, "#4a1a88", 19, 6],
  [bSlateX, bSlateY, "#5450b8", 19, 10],
  [bBlackX, bBlackY, "#1c2428", 17, 6],
  [bBlack2X, bBlack2Y, "#2a2440", 14, 10],
  [bSageX, bSageY, "#8a9a84", 16, 10],
  [bOliveX, bOliveY, "#a8b830", 14, 0],
  [bKhakiX, bKhakiY, "#d0c898", 11, 0],
  [bOrangeRedX, bOrangeRedY, "#f05030", 12, 0],
  [bDarkX, bDarkY, "#3a2a70", 20, 6],
  [bVioletBaseX, bVioletBaseY, "#7a28d8", 14, 44],
  [bBlueX, bBlueY, "#1f4ee0", 20, 6],
  [bVioletX, bVioletY, "#8a2be2", 20, 12],
  [bGoldX, bGoldY, "#c9a818", 17, 4],
  [bNavyX, bNavyY, "#0c1fbf", 14, 2],
  [bGrassX, bGrassY, "#7aa020", 12, 0],
  [bTan3X, bTan3Y, "#b09a74", 14, 2],
  [bYellowX, bYellowY, "#c4c83c", 18, 8],
  [bYellow2X, bYellow2Y, "#c4c83c", 18, 6]
]);
drawColumns(gB, xB, yB, cloudBPurpleX, cloudBPurpleY, ["#5a48c8", "#4a2aa0", "#6a58e0", "#3a2a90", "#7a40d0", "#30c8a0", "#5450b8", "#c040c0"]);
drawColumns(gB, xB, yB, cloudBP2X, cloudBP2Y, ["#3a3ad0", "#6040c0", "#20a880", "#4a2aa0", "#8a6ae0", "#50c050", "#2a2a70"], 3);
drawBands(gB, xB, yB, [
  [bTanX, bTanY, "#b09a74", 22, 16],
  [bTan2X, bTan2Y, "#b09a74", 16, 0],
  [bLilacX, bLilacY, "#a080d0", 14, 0],
  [bGreenX, bGreenY, "#18c860", 17, 5]
]);
drawOpen(gB, xB, yB, b58OpenX, b58OpenY, "#5450b8", 2);
drawOpen(gB, xB, yB, b53OpenX, b53OpenY, "#3a1a80", 2.2);
drawOpen(gB, xB, yB, bPinkX, bPinkY, "#e8a8a0", 3);
drawOpen(gB, xB, yB, bRedFillX, bRedFillY, "#d81c20", 2.6);

gB.append("line").attr("x1", xB(0)).attr("x2", xB(8)).attr("y1", yB(1.3)).attr("y2", yB(1.3)).attr("stroke", "#b0b0b0").attr("stroke-width", 2.2).attr("opacity", 0.85);
drawLegend(gB, [1353, 42, 1601, 250], legendB, legendBColours, [59, 88, 117, 146, 174, 203, 232], 1408, 1381, [1360, 1405]);

gB.append("text").attr("transform", "translate(946,281) rotate(-90)").attr("text-anchor", "middle").style("font-size", "27px").text("Association p-value");
gB.append("text").attr("x", 1291).attr("y", 587).attr("text-anchor", "middle").style("font-size", "27px").text("p-value inclusion threshold");

// ---- panel B
const radial = d3.scaleLinear().domain([0, 5]).range([0, 279]);
const colour = d3.scaleLinear().domain(cbStops).range(cbColours);
const size = d3.scaleLinear().domain([0, 6.1]).range([1.5, 25.6]);

const drawTree = (cx, cy, rings) => {
  const g = root.append("g").attr("transform", "translate(" + cx + "," + cy + ")");

  g.append("g").selectAll("circle")
    .data(d3.range(1, rings.length))
    .enter()
    .append("circle")
    .attr("r", d => radial(d))
    .attr("fill", "none")
    .attr("stroke", "#4a4a4a")
    .attr("stroke-width", 2)
    .attr("stroke-dasharray", "1.6 1.1");

  const nodes = rings.map((vals, lev) => vals.map((v, i) => {
    const p = d3.pointRadial(lev === 0 ? 0 : (i + 0.5) / vals.length * 2 * Math.PI, radial(lev));
    return { x: p[0], y: p[1], v: v, lev: lev, i: i };
  }));

  nodes.forEach((level, lev) => {
    if (lev === 0) return;
    g.append("g").selectAll("line")
      .data(level)
      .enter()
      .append("line")
      .attr("x1", d => d.x)
      .attr("y1", d => d.y)
      .attr("x2", d => {
        const parent = lev === 1 ? nodes[0][0] : nodes[lev - 1][Math.floor(d.i / 2)];
        return parent.x;
      })
      .attr("y2", d => {
        const parent = lev === 1 ? nodes[0][0] : nodes[lev - 1][Math.floor(d.i / 2)];
        return parent.y;
      })
      .attr("stroke", "#1a1a1a")
      .attr("stroke-width", 2.2);
  });

  g.append("g").selectAll("circle")
    .data(nodes.flat())
    .enter()
    .append("circle")
    .attr("cx", d => d.x)
    .attr("cy", d => d.y)
    .attr("r", d => size(d.v))
    .attr("fill", d => colour(d.v))
    .attr("stroke", d => d.v >= 3.3 ? "#111" : "none")
    .attr("stroke-width", 2.8);
};

drawTree(400.6, 968, [leftRoot, leftRing1, leftRing2, leftRing3, leftRing4, leftRing5]);
drawTree(1299.4, 968, [rightRoot, rightRing1, rightRing2, rightRing3, rightRing4, rightRing5]);

const drawColorbar = (x0, x1) => {
  const y = d3.scaleLinear().domain([0, 6]).range([1270, 676]);
  const g = root.append("g");
  g.append("rect")
    .attr("x", x0)
    .attr("y", y(6.1))
    .attr("width", x1 - x0)
    .attr("height", y(0) - y(6.1))
    .attr("fill", "url(#cb)")
    .attr("stroke", "#9a9a9a")
    .attr("stroke-width", 2);
  const axis = d3.axisRight(y).tickValues(cbTicks).tickSize(0).tickPadding(8).tickFormat(d3.format("d"));
  const ga = g.append("g").attr("transform", "translate(" + x1 + ",0)").call(axis);
  ga.select(".domain").remove();
  ga.selectAll("text").style("font-size", "14px").style("fill", "#333");
  ga.selectAll(".tick").append("line").attr("x2", -4).attr("stroke", "#555");
};
drawColorbar(719, 746);
drawColorbar(1617, 1644);

root.append("text").attr("x", 2).attr("y", 26).style("font-size", "25px").style("font-weight", "bold").style("fill", "#111").text("A");
root.append("text").attr("x", 2).attr("y", 651).style("font-size", "25px").style("font-weight", "bold").style("fill", "#111").text("B");
</script>
</body>
</html>
